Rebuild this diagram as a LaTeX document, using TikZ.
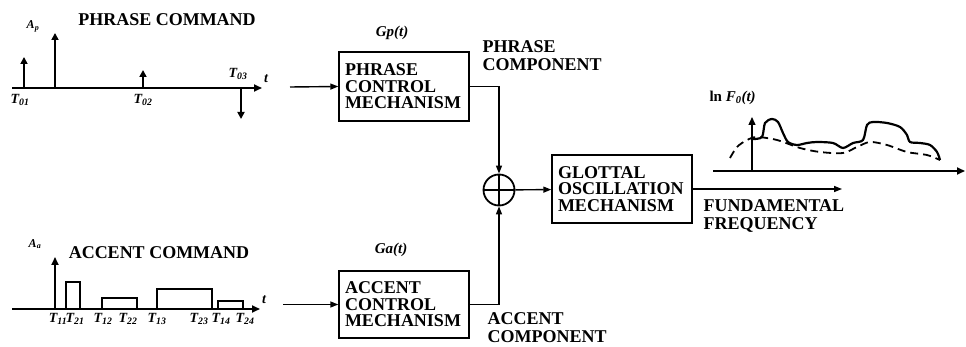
\documentclass[tikz,border=0pt]{standalone}
\usepackage{fontspec}
\setmainfont{Liberation Serif}
\usetikzlibrary{arrows.meta}

\newcommand{\Tsub}[1]{\textbf{\textit{T\textsubscript{#1}}}}

\tikzset{
	block/.style={draw, line width=1.4pt, inner xsep=6pt, inner ysep=0pt, text width=118pt, align=left,
		font=\fontsize{18}{16.5}\selectfont\bfseries},
	conn/.style={line width=1.4pt, -{Triangle[length=8pt,width=6pt]}},
	axis/.style={line width=1.7pt, -{Triangle[length=8pt,width=7pt]}},
	pulse/.style={line width=1.7pt, -{Triangle[length=7pt,width=7pt]}},
	title/.style={font=\fontsize{18}{18}\selectfont\bfseries},
	tlab/.style={font=\fontsize{14}{14}\selectfont},
	amp/.style={font=\fontsize{12}{12}\selectfont\bfseries\itshape},
	fn/.style={font=\fontsize{15}{15}\selectfont\bfseries\itshape}
}

\begin{document}
\begin{tikzpicture}[x=1pt, y=-1pt]
	\useasboundingbox (0,0) rectangle (966,347);

	% phrase command
	\node[title] (pcmd) at (167,20) {PHRASE COMMAND};
	\coordinate (pax0) at (12,88);
	\coordinate (pax1) at (262,88);
	\draw[axis] (pax0) -- (pax1) node[right, tlab, yshift=9pt, xshift=-2pt]{\textbf{\textit{t}}};
	\draw[pulse] (24,88) -- (24,57);
	\draw[pulse] (55,88) -- (55,33);
	\draw[pulse] (143,88) -- (143,70);
	\draw[pulse] (241,88) -- (241,119);
	\node[amp] (ap) at (33,26) {A\textsubscript{p}};
	\node[tlab] (t01) at (20,100) {\Tsub{01}};
	\node[tlab] (t02) at (143,100) {\Tsub{02}};
	\node[tlab] (t03) at (238,74) {\Tsub{03}};

	% accent command
	\node[title] (acmd) at (159,253) {ACCENT COMMAND};
	\coordinate (aax0) at (12,309);
	\coordinate (aax1) at (260,309);
	\draw[axis] (aax0) -- (aax1) node[right, tlab, yshift=9pt, xshift=-2pt]{\textbf{\textit{t}}};
	\draw[axis] (55,309) -- (55,257);
	\draw[line width=1.5pt] (66,309) -- (66,282) -- (80,282) -- (80,309);
	\draw[line width=1.5pt] (102,309) -- (102,298) -- (137,298) -- (137,309);
	\draw[line width=1.5pt] (157,309) -- (157,289) -- (212,289) -- (212,309);
	\draw[line width=1.5pt] (218,309) -- (218,301) -- (243,301) -- (243,309);
	\node[amp] (aa) at (35,244) {A\textsubscript{a}};
	\node[tlab] (t11) at (58,319) {\Tsub{11}};
	\node[tlab] (t21) at (75,319) {\Tsub{21}};
	\node[tlab] (t12) at (103,319) {\Tsub{12}};
	\node[tlab] (t22) at (128,319) {\Tsub{22}};
	\node[tlab] (t13) at (157,319) {\Tsub{13}};
	\node[tlab] (t23) at (199,319) {\Tsub{23}};
	\node[tlab] (t14) at (221,319) {\Tsub{14}};
	\node[tlab] (t24) at (245,319) {\Tsub{24}};

	% control mechanisms and the adder
	\node[block, minimum height=69pt] (phrase) at (404,86.5) {PHRASE\\CONTROL\\MECHANISM};
	\node[block, minimum height=67pt] (accent) at (404,304.5) {ACCENT\\CONTROL\\MECHANISM};
	\node[fn] (gp) at (392,33) {Gp(t)};
	\node[fn] (ga) at (391,250) {Ga(t)};
	\node[draw, circle, line width=1.8pt, minimum size=31pt, inner sep=0pt] (sum) at (499,190) {};
	\draw[line width=1.8pt] (sum.north) -- (sum.south) (sum.west) -- (sum.east);

	\coordinate (pin) at (290,87);
	\coordinate (ain) at (283,304.5);
	\draw[conn] (pin) -- (phrase.west);
	\draw[conn] (ain) -- (accent.west);
	\draw[conn] (phrase.east) -| (sum.north);
	\draw[conn] (accent.east) -| (sum.south);

	\node[title, align=left, anchor=west] (pcomp) at (479,56) {PHRASE\\COMPONENT};
	\node[title, align=left, anchor=west] (acomp) at (484,328) {ACCENT\\COMPONENT};

	% glottal oscillation
	\node[block, text width=128pt, minimum height=68pt] (glottal) at (622,189) {GLOTTAL\\OSCILLATION\\MECHANISM};
	\draw[conn] (sum) -- (glottal);
	\coordinate (fout) at (842,189);
	\draw[conn] (glottal.east) -- (fout);
	\node[title, align=left, anchor=west] (ff) at (700,216) {FUNDAMENTAL\\FREQUENCY};

	% F0 contour
	\node[fn, anchor=west, font=\fontsize{15}{15}\selectfont\bfseries] (lnf) at (706,98) {ln \textit{F}\textsubscript{\textit{0}}\textit{(t)}};
	\coordinate (fx0) at (713,171);
	\coordinate (fx1) at (965,171);
	\draw[axis] (fx0) -- (fx1);
	\draw[axis, line width=1.4pt] (752,171) -- (752,117);
	\draw[line width=2.2pt, line join=round] plot[smooth] coordinates {(753,139) (762,137) (765,123) (772,119) (778,122) (783,133) (788,142) (797,145) (807,143) (817,142) (833,143) (843,148) (853,143) (863,140) (867,125) (873,122) (887,123) (900,127) (907,135) (910,142) (920,143) (930,145) (937,152) (940,160)};
	\draw[line width=1.8pt, dash pattern=on 8pt off 5pt] plot[smooth] coordinates {(730,158) (737,147) (747,140) (757,137) (777,140) (800,148) (820,152) (843,153) (857,147) (870,142) (887,145) (907,152) (927,155) (940,160)};
\end{tikzpicture}
\end{document}
